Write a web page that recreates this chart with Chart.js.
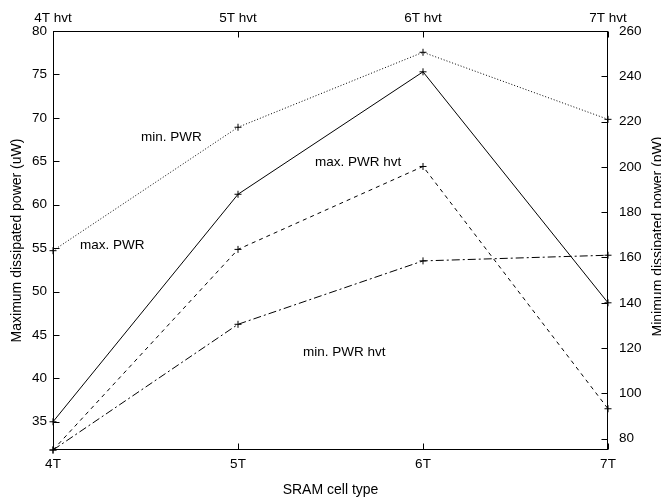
<!DOCTYPE html>
<html><head><meta charset="utf-8">
<script src="https://cdn.jsdelivr.net/npm/chart.js@4/dist/chart.umd.min.js"></script>
<style>html,body{margin:0;padding:0;background:#fff}#wrap{width:661px;height:500px}</style>
</head><body><div id="wrap"><canvas id="c" width="661" height="500"></canvas></div>
<script>
// ---- data ----
const categories = ['4T', '5T', '6T', '7T'];
const topLabels = ['4T hvt', '5T hvt', '6T hvt', '7T hvt'];
const maxPwr = [35.0, 61.2, 75.3, 48.7];          // uW (left axis)
const maxPwrHvt = [31.75, 54.85, 64.4, 36.5];     // uW (left axis)
const minPwr = [163.0, 217.5, 250.6, 221.0];      // pW (right axis)
const minPwrHvt = [75.0, 130.5, 158.5, 161.0];    // pW (right axis)
const seriesNames = ['max. PWR', 'max. PWR hvt', 'min. PWR', 'min. PWR hvt'];
const xTitle = 'SRAM cell type';
const yLeftTitle = 'Maximum dissipated power (uW)';
const yRightTitle = 'Minimum dissipated power (pW)';
// in-plot labels: [text, x (category index), y (left-axis value)]
const labelTexts = ['min. PWR', 'max. PWR', 'max. PWR hvt', 'min. PWR hvt'];
const labelX = [0.476, 0.146, 1.416, 1.351];
const labelY = [67.75, 55.3, 64.83, 43.0];

const FONT = '"Liberation Sans", Arial, Helvetica, sans-serif';
const FS = 13.5;
const toXY = arr => arr.map((v, i) => ({x: i, y: v}));

function ds(name, data, axis, dash) {
  return {
    label: name, data: toXY(data), yAxisID: axis,
    borderColor: '#000', borderWidth: 1, borderDash: dash,
    pointStyle: 'cross', pointRadius: 3.5, pointBorderColor: '#000',
    pointBorderWidth: 1, pointHoverRadius: 3.5, fill: false, tension: 0, clip: false
  };
}

const decor = {
  id: 'decor',
  afterDraw(chart) {
    const ctx = chart.ctx, a = chart.chartArea;
    const L = Math.round(a.left) + 0.5, R = Math.round(a.right) - 0.5;
    const T = Math.round(a.top) + 0.5, B = Math.round(a.bottom) - 0.5;
    ctx.save();
    ctx.strokeStyle = '#000'; ctx.lineWidth = 1; ctx.setLineDash([]);
    ctx.strokeRect(L, T, R - L, B - T);
    const TL = 6;
    ctx.beginPath();
    chart.scales.y.ticks.forEach(t => {
      const p = Math.round(chart.scales.y.getPixelForValue(t.value)) + 0.5;
      ctx.moveTo(L, p); ctx.lineTo(L + TL, p);
    });
    chart.scales.y1.ticks.forEach(t => {
      const p = Math.round(chart.scales.y1.getPixelForValue(t.value)) + 0.5;
      ctx.moveTo(R, p); ctx.lineTo(R - TL, p);
    });
    chart.scales.x.ticks.forEach(t => {
      const p = Math.round(chart.scales.x.getPixelForValue(t.value)) + 0.5;
      ctx.moveTo(p, B); ctx.lineTo(p, B - TL);
    });
    chart.scales.x2.ticks.forEach(t => {
      const p = Math.round(chart.scales.x2.getPixelForValue(t.value)) + 0.5;
      ctx.moveTo(p, T); ctx.lineTo(p, T + TL);
    });
    ctx.stroke();
    // in-plot labels
    ctx.fillStyle = '#000';
    ctx.font = FS + 'px ' + FONT;
    ctx.textAlign = 'left'; ctx.textBaseline = 'middle';
    labelTexts.forEach((txt, i) => {
      ctx.fillText(txt, chart.scales.x.getPixelForValue(labelX[i]), chart.scales.y.getPixelForValue(labelY[i]));
    });
    // right axis title, reading bottom-to-top (clipped at the canvas edge like the original)
    ctx.translate(chart.width - 3, (a.top + a.bottom) / 2 - 4);
    ctx.rotate(-Math.PI / 2);
    ctx.textAlign = 'center'; ctx.textBaseline = 'middle';
    ctx.font = '14px ' + FONT;
    ctx.fillText(yRightTitle, 0, 0);
    ctx.restore();
  }
};

const tickFont = {family: FONT, size: FS};
new Chart(document.getElementById('c'), {
  type: 'line',
  data: {
    datasets: [
      ds(seriesNames[0], maxPwr, 'y', []),
      ds(seriesNames[1], maxPwrHvt, 'y', [4, 4]),
      ds(seriesNames[2], minPwr, 'y1', [1, 2]),
      ds(seriesNames[3], minPwrHvt, 'y1', [8, 3, 2, 3])
    ]
  },
  options: {
    responsive: false, animation: false, devicePixelRatio: 1,
    layout: {padding: 0},
    plugins: {legend: {display: false}, tooltip: {enabled: false}, title: {display: false}},
    events: [],
    scales: {
      x: {
        type: 'linear', position: 'bottom', min: 0, max: 3,
        grid: {display: false, drawTicks: false}, border: {display: false},
        ticks: {stepSize: 1, autoSkip: false, maxRotation: 0, padding: 6, color: '#000', font: tickFont,
                callback: v => categories[v] ?? ''},
        title: {display: true, text: xTitle, color: '#000', font: {family: FONT, size: 14}, padding: {top: 0, bottom: 1}},
        afterFit: s => { s.height = 50; }
      },
      x2: {
        type: 'linear', position: 'top', min: 0, max: 3,
        grid: {display: false, drawTicks: false}, border: {display: false},
        ticks: {stepSize: 1, autoSkip: false, maxRotation: 0, padding: 5, color: '#000', font: tickFont,
                callback: v => topLabels[v] ?? ''},
        afterFit: s => { s.height = 31; }
      },
      y: {
        type: 'linear', position: 'left', min: 31.75, max: 80,
        grid: {display: false, drawTicks: false}, border: {display: false},
        ticks: {stepSize: 5, includeBounds: false, padding: 6, color: '#000', font: tickFont},
        title: {display: true, text: yLeftTitle, color: '#000', font: {family: FONT, size: 14}, padding: {top: 8.3}},
        afterFit: s => { s.width = 53; }
      },
      y1: {
        type: 'linear', position: 'right', min: 75, max: 260,
        grid: {display: false, drawTicks: false}, border: {display: false},
        ticks: {stepSize: 20, includeBounds: false, padding: 11, color: '#000', font: tickFont},
        afterFit: s => { s.width = 53; }
      }
    }
  },
  plugins: [decor]
});
</script>
</body></html>
